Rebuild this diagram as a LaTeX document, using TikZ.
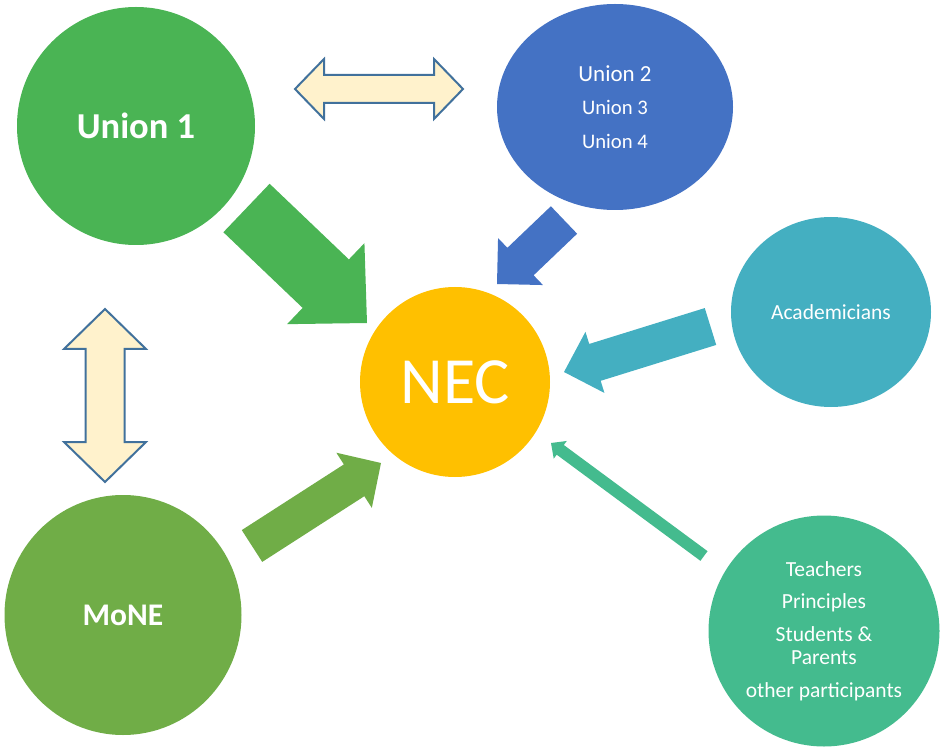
\documentclass[tikz,border=0pt]{standalone}
\usepackage{fontspec}
\setmainfont{Carlito}
\usetikzlibrary{calc,shapes.geometric}

\definecolor{unionone}{HTML}{4AB454}
\definecolor{unionrest}{HTML}{4472C4}
\definecolor{academ}{HTML}{44AFC1}
\definecolor{necgold}{HTML}{FFC000}
\definecolor{mone}{HTML}{70AD47}
\definecolor{partic}{HTML}{44BB8E}
\definecolor{linkfill}{HTML}{FFF2CC}
\definecolor{linkedge}{HTML}{41719C}

% Single block arrow: #1 style, #2 tail, #3 tip,
% #4 half shaft width, #5 half head width, #6 head length
\newcommand\blockarrow[6]{%
  \coordinate (neck) at ($(#3)!#6!(#2)$);
  \path[#1] ($(#2)!#4!90:(#3)$) -- ($(neck)!#4!90:(#3)$) -- ($(neck)!#5!90:(#3)$)
    -- (#3) -- ($(neck)!#5!-90:(#3)$) -- ($(neck)!#4!-90:(#3)$)
    -- ($(#2)!#4!-90:(#3)$) -- cycle;}

% Two-headed block arrow between #2 and #3, same size arguments
\newcommand\twowayarrow[6]{%
  \coordinate (necka) at ($(#2)!#6!(#3)$);
  \coordinate (neckb) at ($(#3)!#6!(#2)$);
  \path[#1] (#2) -- ($(necka)!#5!90:(#3)$) -- ($(necka)!#4!90:(#3)$)
    -- ($(neckb)!#4!-90:(#2)$) -- ($(neckb)!#5!-90:(#2)$) -- (#3)
    -- ($(neckb)!#5!90:(#2)$) -- ($(neckb)!#4!90:(#2)$)
    -- ($(necka)!#4!-90:(#3)$) -- ($(necka)!#5!-90:(#3)$) -- cycle;}

\begin{document}
\begin{tikzpicture}[x=1pt,y=-1pt,
  bubble/.style={ellipse,inner sep=0pt,text=white,align=center},
  link/.style={fill=linkfill,draw=linkedge,line width=2pt,line join=miter}]
\useasboundingbox (0,0) rectangle (940,751);

% actors
\node[bubble,fill=unionone,minimum width=238,minimum height=238,
  font=\fontsize{36.5}{40}\selectfont\bfseries] (u1) at (136,126) {Union 1};
\node[bubble,fill=unionrest,minimum width=236,minimum height=206,
  font=\fontsize{20.7}{33.5}\selectfont] (u2) at (615,107)
  {{\fontsize{23}{33.5}\selectfont Union 2}\\Union 3\\Union 4};
\node[bubble,fill=academ,minimum width=200,minimum height=190,
  font=\fontsize{21.5}{25}\selectfont] (ac) at (831,312) {Academicians};
\node[bubble,fill=necgold,minimum width=190,minimum height=190,
  font=\fontsize{66}{70}\selectfont] (nec) at (455,382) {NEC};
\node[bubble,fill=mone,minimum width=237,minimum height=240,
  font=\fontsize{31.5}{36}\selectfont\bfseries] (mo) at (123,615) {MoNE};
\node[bubble,fill=partic,minimum width=231,minimum height=231,
  font=\fontsize{21.5}{32.5}\selectfont] (pa) at (824,631)
  {Teachers\\Principles\\Students \&\\[-9pt]Parents\\other participants};

% arrow end points
\coordinate (u1tail) at (246.5,208);  \coordinate (u1tip) at (367,323);
\coordinate (u2tail) at (564,220);    \coordinate (u2tip) at (497,284);
\coordinate (actail) at (710.5,326.5);\coordinate (actip) at (564,372);
\coordinate (patail) at (704,556);    \coordinate (patip) at (551,443);
\coordinate (motail) at (252,546);    \coordinate (motip) at (381,463);
\coordinate (hl) at (295,89);         \coordinate (hr) at (463,89);
\coordinate (vt) at (105,309);        \coordinate (vb) at (105,482);

% flows into NEC
\blockarrow{fill=unionone}{u1tail}{u1tip}{33.5pt}{56pt}{57pt}
\blockarrow{fill=unionrest}{u2tail}{u2tip}{19pt}{32.5pt}{32.5pt}
\blockarrow{fill=academ}{actail}{actip}{19.3pt}{32pt}{32.4pt}
\blockarrow{fill=partic}{patail}{patip}{6pt}{11pt}{11.5pt}
\blockarrow{fill=mone}{motail}{motip}{18.9pt}{32.8pt}{32pt}

% links between the actors
\twowayarrow{link}{hl}{hr}{14pt}{30pt}{29pt}
\twowayarrow{link}{vt}{vb}{19.5pt}{41pt}{40pt}
\end{tikzpicture}
\end{document}
